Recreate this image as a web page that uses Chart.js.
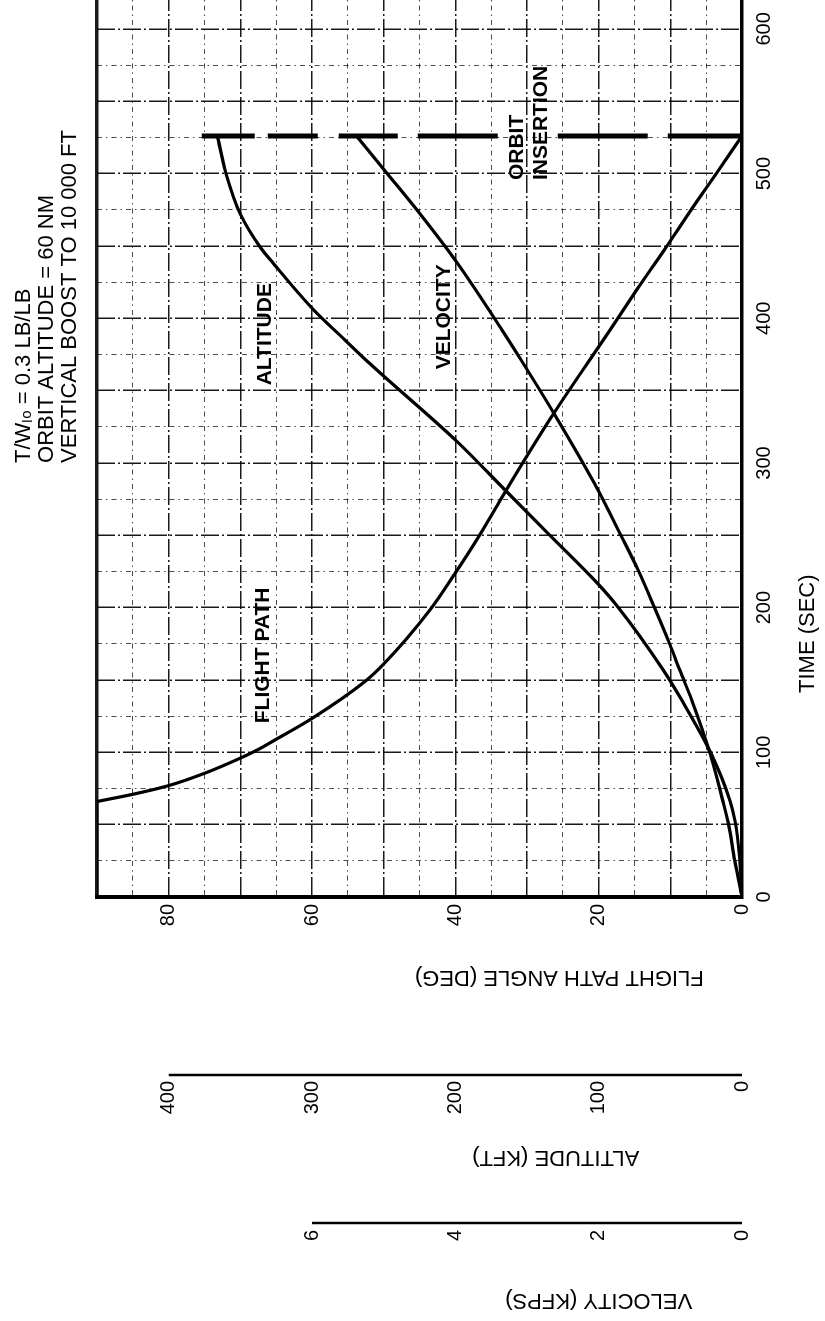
<!DOCTYPE html>
<html>
<head>
<meta charset="utf-8">
<script src="https://cdn.jsdelivr.net/npm/chart.js@4/dist/chart.umd.min.js"></script>
<style>
  html, body { margin: 0; padding: 0; background: #fff; overflow: hidden; }
  #page { position: relative; width: 825px; height: 1321px; overflow: hidden; background: #fff; }
  /* the chart is drawn in its normal orientation, then turned a quarter turn */
  #turn { position: absolute; left: 0; top: 0; width: 1321px; height: 825px;
          transform-origin: 0 0; transform: translateY(1321px) rotate(-90deg); }
</style>
</head>
<body>
<div id="page"><div id="turn"><canvas id="chart" width="1321" height="825"></canvas></div></div>
<script>
// vertical boost phase (flight path angle held at 90 deg)
const boostTime = [0, 66];
const boostAngle = [90, 90];

// flight path angle (deg) after pitch-over
const flightTime = [66, 71, 77, 85.5, 96, 102, 109, 122.5, 149, 161, 198, 224, 251, 272, 300, 334, 392, 424, 449, 475, 500, 526];
const flightAngle = [90, 85, 80, 75, 70, 67.5, 65, 60.3, 52.6, 50, 43.6, 40.0, 36.5, 34.0, 30.6, 26.3, 18.4, 14.1, 10.6, 7.1, 3.6, 0];

// altitude (kft)
const altTime = [0, 25, 51, 67, 100, 136, 157, 201, 217, 250, 281, 315, 369, 385, 406, 438, 449, 472, 500, 526];
const altKft = [0, 1.5, 4.5, 8.5, 22, 42, 55, 87, 101, 134, 165, 199, 260, 277, 299, 327, 336, 350, 360, 366];

// velocity (kfps)
const velTime = [0, 25, 51, 67, 100, 136, 157, 175, 201, 226, 250, 286, 334, 371, 392, 438, 472, 500, 526];
const velKfps = [0, 0.10, 0.19, 0.27, 0.45, 0.70, 0.87, 1.01, 1.23, 1.45, 1.69, 2.06, 2.62, 3.08, 3.35, 3.97, 4.49, 4.95, 5.38];

// orbit insertion marker
const orbitTime = [526, 526];
const orbitAngle = [75.4, 0];

// tick labels
const timeLabels = [0, 100, 200, 300, 400, 500, 600];
const angleLabels = [0, 20, 40, 60, 80];
const altLabels = [0, 100, 200, 300, 400];
const velLabels = [0, 2, 4, 6];

const notes = ['T/W\u2097\u2092 = 0.3 LB/LB', 'ORBIT ALTITUDE = 60 NM', 'VERTICAL BOOST TO 10 000 FT'];

const FONT = '"Liberation Sans", Arial, sans-serif';

function pairs(xs, ys) {
  return xs.map((v, i) => ({x: v, y: ys[i]}));
}

function lineSet(data, axis, extra) {
  return Object.assign({
    data: data,
    yAxisID: axis,
    showLine: true,
    borderColor: '#000',
    borderWidth: 3.2,
    pointRadius: 0,
    fill: false,
    cubicInterpolationMode: 'monotone'
  }, extra || {});
}

function isMajor(v, step) {
  return Math.abs(v / step - Math.round(v / step)) < 1e-6;
}

function gridOpts(step) {
  return {
    drawTicks: false,
    color: c => (c.tick && isMajor(c.tick.value, step)) ? 'rgba(0,0,0,0.9)' : 'rgba(0,0,0,0.7)',
    lineWidth: c => {
      if (c.tick && c.tick.value === 90 && step === 10) return 3.5;
      return (c.tick && isMajor(c.tick.value, step)) ? 1.5 : 1;
    }
  };
}

function borderOpts(step, width) {
  return {
    color: '#000',
    width: width,
    dash: c => {
      if (!c.tick) return [];
      if (c.tick.value === 90 && step === 10) return [];
      return isMajor(c.tick.value, step) ? [18, 3, 2, 3] : [5, 4, 1.5, 4];
    }
  };
}

const extras = {
  id: 'extras',
  afterDraw(chart) {
    const {ctx, chartArea, scales} = chart;
    const {x, y, yAlt, yVel} = scales;
    ctx.save();
    ctx.strokeStyle = '#000';
    ctx.fillStyle = '#000';

    // the altitude and velocity axes only run over their labelled range
    ctx.lineWidth = 2.5;
    ctx.beginPath();
    ctx.moveTo(yAlt.right, yAlt.getPixelForValue(0));
    ctx.lineTo(yAlt.right, yAlt.getPixelForValue(400));
    ctx.moveTo(yVel.right, yVel.getPixelForValue(0));
    ctx.lineTo(yVel.right, yVel.getPixelForValue(6));
    ctx.stroke();

    const text = (str, px, py, rot, align, font) => {
      ctx.save();
      ctx.translate(px, py);
      ctx.rotate(rot);
      ctx.font = font;
      ctx.textAlign = align;
      ctx.textBaseline = 'middle';
      ctx.fillText(str, 0, 0);
      ctx.restore();
    };
    const axisFont = '22px ' + FONT;
    const labelFont = 'bold 21px ' + FONT;

    // axis titles
    text('FLIGHT PATH ANGLE (DEG)', chartArea.left - 80, y.getPixelForValue(25.5), -Math.PI / 2, 'center', axisFont);
    text('ALTITUDE (KFT)', yAlt.right - 82, yAlt.getPixelForValue(130), -Math.PI / 2, 'center', axisFont);
    text('VELOCITY (KFPS)', yVel.right - 77, yVel.getPixelForValue(2.0), -Math.PI / 2, 'center', axisFont);
    text('TIME (SEC)', x.getPixelForValue(182), chartArea.bottom + 66, 0, 'center', axisFont);

    // curve labels
    text('FLIGHT PATH', x.getPixelForValue(167), y.getPixelForValue(66.8), 0, 'center', labelFont);
    text('ALTITUDE', x.getPixelForValue(389), y.getPixelForValue(66.5), 0, 'center', labelFont);
    text('VELOCITY', x.getPixelForValue(401), y.getPixelForValue(41.5), 0, 'center', labelFont);
    text('ORBIT', x.getPixelForValue(495.5), y.getPixelForValue(31.4), 0, 'left', labelFont);
    text('INSERTION', x.getPixelForValue(495.5), y.getPixelForValue(28.0), 0, 'left', labelFont);

    // case notes above the grid
    notes.forEach((n, i) => {
      text(n, x.getPixelForValue(300), 24 + i * 23, 0, 'left', axisFont);
    });
    ctx.restore();
  }
};

const ctx = document.getElementById('chart').getContext('2d');
new Chart(ctx, {
  type: 'scatter',
  data: {
    datasets: [
      lineSet(pairs(boostTime, boostAngle), 'y', {cubicInterpolationMode: 'default'}),
      lineSet(pairs(flightTime, flightAngle), 'y'),
      lineSet(pairs(altTime, altKft), 'yAlt'),
      lineSet(pairs(velTime, velKfps), 'yVel'),
      lineSet(pairs(orbitTime, orbitAngle), 'y', {
        cubicInterpolationMode: 'default',
        borderWidth: 5,
        borderDash: [53, 13, 50, 21, 59, 20, 80, 60, 90, 20, 80]
      })
    ]
  },
  options: {
    responsive: false,
    animation: false,
    devicePixelRatio: 1,
    layout: {padding: {top: 97, right: 0, bottom: 0, left: 0}},
    plugins: {legend: {display: false}, tooltip: {enabled: false}},
    scales: {
      x: {
        type: 'linear', position: 'bottom', min: 0, max: 620,
        afterFit: s => { s.height = 83; },
        ticks: {
          stepSize: 25, includeBounds: false, autoSkip: false, maxRotation: 0, padding: 10,
          color: '#000', font: {family: FONT, size: 20},
          callback: v => timeLabels.includes(v) ? String(v) : ''
        },
        grid: gridOpts(50),
        border: borderOpts(50, 3.5)
      },
      y: {
        type: 'linear', position: 'left', weight: 0, min: 0, max: 90,
        afterFit: s => { s.width = 178; },
        ticks: {
          stepSize: 5, autoSkip: false, padding: 7,
          color: '#000', font: {family: FONT, size: 20},
          callback: v => angleLabels.includes(v) ? String(v) : ''
        },
        grid: gridOpts(10),
        border: borderOpts(10, 4)
      },
      yAlt: {
        type: 'linear', position: 'left', weight: 1, min: 0, max: 450,
        afterFit: s => { s.width = 148; },
        ticks: {
          stepSize: 100, includeBounds: false, autoSkip: false, padding: 6,
          color: '#000', font: {family: FONT, size: 20},
          callback: v => altLabels.includes(v) ? String(v) : ''
        },
        grid: {display: false, drawTicks: false, drawOnChartArea: false},
        border: {display: false}
      },
      yVel: {
        type: 'linear', position: 'left', weight: 2, min: 0, max: 9,
        afterFit: s => { s.width = 98; },
        ticks: {
          stepSize: 2, includeBounds: false, autoSkip: false, padding: 7,
          color: '#000', font: {family: FONT, size: 20},
          callback: v => velLabels.includes(v) ? String(v) : ''
        },
        grid: {display: false, drawTicks: false, drawOnChartArea: false},
        border: {display: false}
      }
    }
  },
  plugins: [extras]
});
</script>
</body>
</html>
